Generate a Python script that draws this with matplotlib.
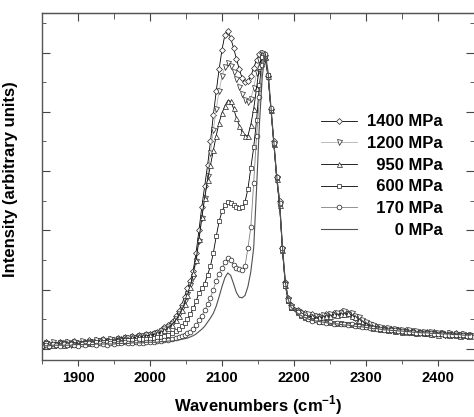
import matplotlib
matplotlib.use('Agg')
import matplotlib.pyplot as plt
from matplotlib.ticker import MultipleLocator, NullFormatter

plt.rcParams['font.family'] = ['Liberation Sans', 'DejaVu Sans']
plt.rcParams['font.weight'] = 'bold'
plt.rcParams['mathtext.fontset'] = 'custom'
plt.rcParams['mathtext.rm'] = 'Liberation Sans:bold'
plt.rcParams['mathtext.bf'] = 'Liberation Sans:bold'

# wavenumber grid (cm-1)
wn = [1850, 1855, 1860, 1865, 1870, 1875, 1880, 1885, 1890, 1895,
      1900, 1905, 1910, 1915, 1920, 1925, 1930, 1935, 1940, 1945,
      1950, 1955, 1960, 1965, 1970, 1975, 1980, 1985, 1990, 1995,
      2000, 2005, 2010, 2015, 2020, 2025, 2030,
      2036, 2040, 2044, 2048, 2052, 2056, 2060, 2064, 2068, 2072,
      2076, 2080, 2084, 2088, 2092, 2096, 2100, 2104, 2108, 2112,
      2116, 2120, 2124, 2128, 2132, 2136, 2140, 2144, 2148, 2152,
      2156, 2160, 2164, 2168, 2172, 2176, 2180, 2184, 2188, 2192, 2196,
      2205, 2210, 2215, 2220, 2225, 2230, 2235, 2240, 2245, 2250,
      2255, 2260, 2265, 2270, 2275, 2280, 2285, 2290, 2295, 2300,
      2305, 2310, 2315, 2320, 2325, 2330, 2335, 2340, 2345, 2350,
      2355, 2360, 2365, 2370, 2375, 2380, 2385, 2390, 2395, 2400,
      2405, 2410, 2415, 2420, 2425, 2430, 2435, 2440, 2445]

p1400 = [0.08, 0.12, 0.04, 0.10, 0.06, 0.12, 0.07, 0.11, 0.09, 0.13,
         0.08, 0.12, 0.10, 0.14, 0.11, 0.15, 0.12, 0.16, 0.13, 0.17,
         0.15, 0.18, 0.16, 0.19, 0.18, 0.21, 0.20, 0.23, 0.22, 0.25,
         0.25, 0.27, 0.29, 0.32, 0.36, 0.40, 0.46,
         0.55, 0.64, 0.74, 0.88, 1.02, 1.15, 1.32, 1.62, 2.00, 2.40,
         2.75, 3.10, 3.50, 3.95, 4.35, 4.72, 5.05, 5.30, 5.37, 5.25,
         5.08, 4.90, 4.72, 4.57, 4.50, 4.52, 4.60, 4.74, 4.88, 4.98,
         5.00, 4.90, 4.60, 4.05, 3.50, 2.90, 2.50, 1.70, 1.12, 0.85, 0.74,
         0.66, 0.62, 0.60, 0.57, 0.58, 0.55, 0.56, 0.54, 0.58, 0.57,
         0.61, 0.59, 0.62, 0.58, 0.60, 0.55, 0.52, 0.46, 0.44, 0.40,
         0.39, 0.36, 0.37, 0.33, 0.35, 0.32, 0.33, 0.30, 0.32, 0.29,
         0.31, 0.28, 0.30, 0.27, 0.29, 0.26, 0.28, 0.25, 0.28, 0.25,
         0.27, 0.24, 0.27, 0.23, 0.26, 0.23, 0.25, 0.22, 0.24]

p1200 = [0.05, 0.09, 0.07, 0.11, 0.06, 0.10, 0.09, 0.12, 0.07, 0.11,
         0.10, 0.13, 0.09, 0.12, 0.12, 0.15, 0.13, 0.14, 0.12, 0.16,
         0.15, 0.17, 0.14, 0.18, 0.18, 0.20, 0.18, 0.21, 0.21, 0.23,
         0.23, 0.25, 0.27, 0.30, 0.33, 0.37, 0.42,
         0.50, 0.58, 0.68, 0.80, 0.93, 1.07, 1.22, 1.48, 1.82, 2.20,
         2.55, 2.92, 3.30, 3.70, 4.05, 4.35, 4.60, 4.76, 4.82, 4.78,
         4.68, 4.56, 4.42, 4.30, 4.20, 4.16, 4.22, 4.40, 4.65, 4.88,
         5.00, 4.92, 4.58, 4.02, 3.45, 2.88, 2.45, 1.68, 1.10, 0.84, 0.72,
         0.64, 0.60, 0.57, 0.58, 0.54, 0.56, 0.53, 0.57, 0.55, 0.59,
         0.57, 0.61, 0.60, 0.63, 0.59, 0.61, 0.56, 0.54, 0.48, 0.45,
         0.42, 0.40, 0.37, 0.36, 0.34, 0.35, 0.32, 0.33, 0.31, 0.32,
         0.29, 0.31, 0.28, 0.30, 0.27, 0.28, 0.26, 0.29, 0.25, 0.27,
         0.26, 0.24, 0.27, 0.24, 0.25, 0.23, 0.25, 0.22, 0.23]

p950 = [0.07, 0.04, 0.09, 0.06, 0.08, 0.11, 0.06, 0.09, 0.10, 0.08,
        0.11, 0.09, 0.12, 0.10, 0.13, 0.11, 0.14, 0.12, 0.15, 0.13,
        0.14, 0.17, 0.16, 0.18, 0.17, 0.19, 0.19, 0.21, 0.21, 0.22,
        0.23, 0.24, 0.26, 0.28, 0.31, 0.35, 0.40,
        0.48, 0.56, 0.65, 0.76, 0.90, 1.05, 1.28, 1.50, 1.85, 2.22,
        2.55, 2.85, 3.10, 3.35, 3.60, 3.82, 3.98, 4.10, 4.19, 4.18,
        4.06, 3.90, 3.77, 3.66, 3.59, 3.60, 3.78, 4.05, 4.40, 4.78,
        4.98, 4.93, 4.60, 4.03, 3.46, 2.86, 2.42, 1.66, 1.08, 0.82, 0.71,
        0.63, 0.58, 0.56, 0.53, 0.55, 0.52, 0.54, 0.53, 0.56, 0.55,
        0.58, 0.57, 0.59, 0.58, 0.60, 0.56, 0.53, 0.49, 0.45, 0.42,
        0.39, 0.37, 0.36, 0.34, 0.33, 0.32, 0.33, 0.30, 0.31, 0.29,
        0.30, 0.28, 0.29, 0.27, 0.28, 0.26, 0.27, 0.25, 0.27, 0.24,
        0.26, 0.25, 0.23, 0.25, 0.24, 0.22, 0.24, 0.23, 0.22]

p600 = [0.06, 0.09, 0.05, 0.08, 0.08, 0.06, 0.09, 0.07, 0.10, 0.08,
        0.07, 0.10, 0.09, 0.11, 0.09, 0.12, 0.10, 0.12, 0.11, 0.13,
        0.12, 0.13, 0.12, 0.14, 0.14, 0.15, 0.14, 0.16, 0.16, 0.17,
        0.17, 0.18, 0.19, 0.20, 0.22, 0.24, 0.27,
        0.30, 0.33, 0.38, 0.43, 0.50, 0.58, 0.68, 0.80, 0.94, 1.02,
        1.10, 1.25, 1.40, 1.62, 1.90, 2.15, 2.32, 2.42, 2.47, 2.46,
        2.42, 2.40, 2.38, 2.39, 2.48, 2.70, 3.05, 3.40, 3.86, 4.45,
        4.92, 4.95, 4.62, 4.04, 3.46, 2.88, 2.44, 1.66, 1.06, 0.80, 0.68,
        0.60, 0.56, 0.52, 0.50, 0.48, 0.49, 0.46, 0.45, 0.46, 0.43,
        0.44, 0.42, 0.43, 0.41, 0.42, 0.40, 0.40, 0.38, 0.38, 0.36,
        0.36, 0.34, 0.35, 0.33, 0.33, 0.31, 0.32, 0.30, 0.31, 0.29,
        0.30, 0.28, 0.29, 0.27, 0.28, 0.26, 0.27, 0.26, 0.26, 0.25,
        0.26, 0.24, 0.25, 0.24, 0.24, 0.23, 0.24, 0.22, 0.23]

p170 = [0.04, 0.07, 0.05, 0.08, 0.06, 0.04, 0.08, 0.06, 0.08, 0.06,
        0.05, 0.08, 0.07, 0.09, 0.08, 0.07, 0.09, 0.08, 0.07, 0.10,
        0.08, 0.10, 0.09, 0.11, 0.09, 0.10, 0.11, 0.10, 0.10, 0.12,
        0.12, 0.12, 0.13, 0.13, 0.14, 0.15, 0.16,
        0.18, 0.20, 0.22, 0.24, 0.26, 0.29, 0.33, 0.40, 0.48, 0.56,
        0.65, 0.75, 0.86, 1.00, 1.15, 1.27, 1.36, 1.46, 1.53, 1.50,
        1.42, 1.37, 1.34, 1.33, 1.40, 1.70, 2.05, 2.80, 3.60, 4.25,
        4.80, 4.98, 4.62, 4.06, 3.48, 2.90, 2.46, 1.70, 1.10, 0.82, 0.70,
        0.62, 0.57, 0.53, 0.51, 0.47, 0.48, 0.45, 0.46, 0.43, 0.45,
        0.42, 0.43, 0.41, 0.42, 0.40, 0.41, 0.38, 0.39, 0.37, 0.37,
        0.35, 0.35, 0.34, 0.33, 0.32, 0.32, 0.31, 0.31, 0.30, 0.30,
        0.29, 0.28, 0.28, 0.27, 0.27, 0.27, 0.26, 0.26, 0.25, 0.25,
        0.25, 0.24, 0.24, 0.24, 0.23, 0.23, 0.23, 0.22, 0.22]

p0 = [0.05, 0.05, 0.05, 0.06, 0.06, 0.06, 0.06, 0.06, 0.06, 0.07,
      0.07, 0.07, 0.07, 0.07, 0.07, 0.08, 0.08, 0.08, 0.08, 0.08,
      0.08, 0.09, 0.09, 0.09, 0.09, 0.10, 0.10, 0.10, 0.10, 0.11,
      0.11, 0.11, 0.11, 0.12, 0.12, 0.13, 0.13,
      0.14, 0.15, 0.16, 0.17, 0.18, 0.20, 0.22, 0.25, 0.29, 0.33,
      0.38, 0.45, 0.52, 0.60, 0.72, 0.88, 1.05, 1.20, 1.28, 1.24,
      1.10, 0.95, 0.87, 0.86, 0.90, 1.05, 1.30, 1.70, 2.70, 3.80,
      4.60, 5.00, 4.68, 4.08, 3.50, 2.92, 2.48, 1.72, 1.12, 0.83, 0.70,
      0.60, 0.56, 0.53, 0.50, 0.48, 0.47, 0.46, 0.45, 0.44, 0.43,
      0.42, 0.42, 0.41, 0.40, 0.40, 0.39, 0.38, 0.37, 0.37, 0.36,
      0.35, 0.34, 0.34, 0.33, 0.32, 0.32, 0.31, 0.31, 0.30, 0.30,
      0.29, 0.29, 0.28, 0.28, 0.27, 0.27, 0.27, 0.26, 0.26, 0.26,
      0.25, 0.25, 0.25, 0.24, 0.24, 0.24, 0.23, 0.23, 0.23]

# figure spaces keep the legend labels right-aligned
labels = ['1400 MPa', '1200 MPa', '\u2007950 MPa', '\u2007600 MPa',
          '\u2007170 MPa', '\u2007\u2007\u20070 MPa']
series = [p1400, p1200, p950, p600, p170, p0]
markers = ['D', 'v', '^', 's', 'o', None]
msizes = [3.0, 3.6, 3.6, 3.0, 3.4, 0]
colors = ['black', '#b0b0b0', 'black', 'black', '#808080', '#505050']

fig = plt.figure(figsize=(4.74, 4.17), dpi=100)
ax = fig.add_axes([42/474, 57/417, 432/474, 347/417])

for y, lab, m, ms, c in zip(series, labels, markers, msizes, colors):
    if m is None:
        ax.plot(wn, y, '-', color=c, lw=0.8, label=lab)
    else:
        ax.plot(wn, y, '-', color=c, lw=0.6, marker=m, ms=ms,
                mfc='white', mec='#222222', mew=0.5, label=lab)

ax.set_xlim(1850, 2450)
ax.set_ylim(-0.19, 5.67)

ax.xaxis.set_major_locator(MultipleLocator(100))
ax.xaxis.set_minor_locator(MultipleLocator(50))
ax.yaxis.set_major_locator(MultipleLocator(1))
ax.yaxis.set_minor_locator(MultipleLocator(0.5))
ax.yaxis.set_major_formatter(NullFormatter())

ax.tick_params(axis='x', which='both', direction='out', bottom=True, top=False,
               labelsize=10.5, color='#444444', pad=4)
ax.tick_params(axis='x', which='major', length=4)
ax.tick_params(axis='x', which='minor', length=3)
ax.tick_params(axis='y', which='both', direction='in', left=True, right=True,
               color='#444444')
ax.tick_params(axis='y', which='major', length=6)
ax.tick_params(axis='y', which='minor', length=3)
for t in ax.get_xticklabels():
    t.set_fontweight('bold')

# top ticks point into the plot
sec = ax.secondary_xaxis('top')
sec.xaxis.set_major_locator(MultipleLocator(100))
sec.xaxis.set_minor_locator(MultipleLocator(50))
sec.tick_params(axis='x', which='both', direction='in', labeltop=False,
                color='#444444')
sec.tick_params(axis='x', which='major', length=6)
sec.tick_params(axis='x', which='minor', length=4)
sec.spines['top'].set_color('#555555')

for s in ['left', 'bottom', 'top']:
    ax.spines[s].set_color('#555555')
    ax.spines[s].set_linewidth(1.0)
ax.spines['right'].set_visible(False)

ax.set_xlabel('Wavenumbers (cm$^{-1}$)', fontsize=12, fontweight='bold', labelpad=6)
ax.set_ylabel('Intensity (arbitrary units)', fontsize=12, fontweight='bold', labelpad=10)
ax.yaxis.set_label_coords(-0.055, 0.52)

leg = ax.legend(loc='center', bbox_to_anchor=(0.787, 0.53), frameon=False,
                fontsize=12, handlelength=2.2, labelspacing=0.40,
                handletextpad=0.6, borderpad=0)
for t in leg.get_texts():
    t.set_fontweight('bold')

fig.savefig('out.png', dpi=100)
